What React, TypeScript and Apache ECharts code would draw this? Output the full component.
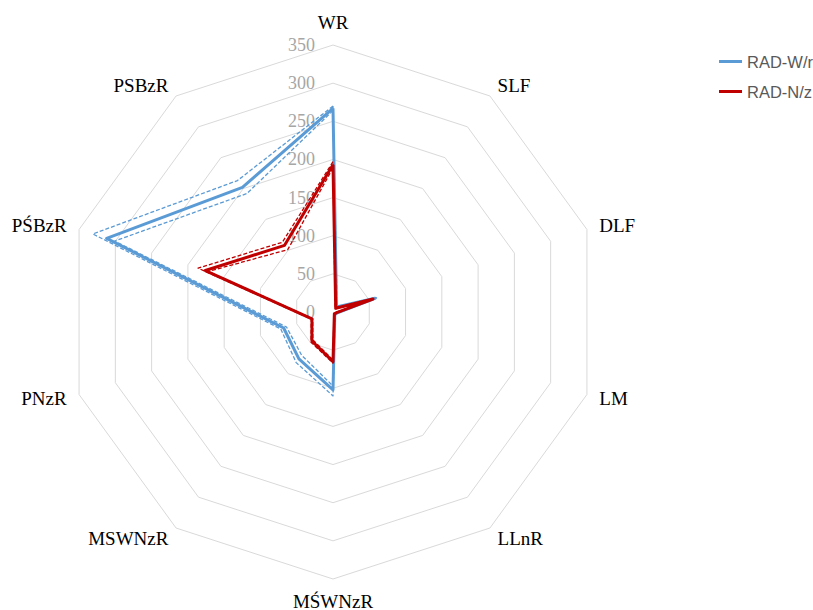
import React, { useEffect, useRef } from "react";
import * as echarts from "echarts";

// Categories in clockwise order starting at the top
const categories = ["WR", "SLF", "DLF", "LM", "LLnR", "MŚWNzR", "MSWNzR", "PNzR", "PŚBzR", "PSBzR"];
const axisMax = 350;
const axisMin = 0;
const splitCount = 7;

const seriesNames = ["RAD-W/r", "RAD-N/z"];

const radWMain = [267, 8, 58, 5, 4, 102, 76, 68, 312, 202];
const radWUpper = [270, 9, 60, 6, 5, 110, 82, 72, 331, 213];
const radWLower = [264, 7, 56, 4, 3, 97, 70, 64, 301, 192];

const radNMain = [193, 6, 55, 4, 3, 65, 47, 29, 176, 108];
const radNUpper = [197, 7, 56, 5, 4, 67, 49, 30, 186, 113];
const radNLower = [189, 5, 54, 3, 2, 63, 45, 28, 172, 101];

const BLUE = "#5B9BD5";
const RED = "#C00000";

// ECharts radar lays indicators out counter-clockwise: reorder
const order = [0, ...categories.map((_, i) => i).slice(1).reverse()];
const reorder = (arr: number[]) => order.map((i) => arr[i]);

export default function App() {
  const ref = useRef<HTMLDivElement>(null);
  useEffect(() => {
    if (!ref.current) return;
    const chart = echarts.init(ref.current, undefined, { renderer: "svg" });
    const serif = "'Liberation Serif', 'Times New Roman', serif";
    const mk = (name: string, values: number[], color: string, main: boolean) => ({
      name,
      value: reorder(values),
      symbol: "none",
      itemStyle: { color },
      lineStyle: main
        ? { color, width: 3, type: "solid" }
        : { color, width: 1.3, type: [4, 2] },
    });
    chart.setOption({
      animation: false,
      legend: {
        data: seriesNames,
        orient: "vertical",
        left: 714,
        top: 48,
        icon: "rect",
        itemWidth: 23,
        itemHeight: 3,
        itemGap: 13,
        textStyle: { color: "#595959", fontSize: 16.5, fontFamily: "'Liberation Sans', Arial, sans-serif" },
      },
      radar: {
        center: [333, 312],
        radius: 267,
        startAngle: 90,
        shape: "polygon",
        splitNumber: splitCount,
        nameGap: 13,
        axisName: { color: "#000", fontSize: 19, fontFamily: serif },
        axisLine: { show: false },
        axisTick: { show: false },
        splitArea: { show: false },
        splitLine: { lineStyle: { color: "#d9d9d9", width: 1 } },
        axisLabel: { show: false, color: "#a6a6a6", fontSize: 18, fontFamily: serif, margin: 18 },
        indicator: reorder(categories.map((_, i) => i)).map((idx: number, k: number) => ({
          name: categories[idx],
          min: axisMin,
          max: axisMax,
          axisLabel: k === 0 ? { show: true } : { show: false },
        })),
      },
      series: [
        {
          type: "radar",
          data: [
            mk("RAD-W/r upper", radWUpper, BLUE, false),
            mk("RAD-W/r lower", radWLower, BLUE, false),
            mk(seriesNames[0], radWMain, BLUE, true),
            mk("RAD-N/z upper", radNUpper, RED, false),
            mk("RAD-N/z lower", radNLower, RED, false),
            mk(seriesNames[1], radNMain, RED, true),
          ],
        },
      ],
    });
    return () => chart.dispose();
  }, []);
  return <div ref={ref} style={{ position: "absolute", left: 0, top: 0, width: 813, height: 610 }} />;
}
